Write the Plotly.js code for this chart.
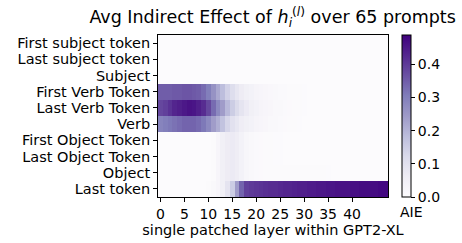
<!DOCTYPE html>
<html>
<head>
<meta charset="utf-8">
<script src="https://cdn.plot.ly/plotly-3.0.1.min.js"></script>
<style>html,body{margin:0;padding:0;background:#fff;}#chart{width:462px;height:243px;}</style>
</head>
<body>
<div id="chart"></div>
<script>
const layers = Array.from({length: 48}, (_, i) => i);
const rowLabels = ["First subject token", "Last subject token", "Subject",
  "First Verb Token", "Last Verb Token", "Verb",
  "First Object Token", "Last Object Token", "Object", "Last token"];
const xTicks = [0, 5, 10, 15, 20, 25, 30, 35, 40];
const cbTicks = [0, 0.1, 0.2, 0.3, 0.4];

const firstSubject = [0.002,0.002,0.002,0.002,0.002,0.002,0.002,0.002,0.002,0.002,0.002,0.002,0.002,0.002,0.002,0.002,0.002,0.002,0.002,0.002,0.002,0.002,0.002,0.002,0.002,0.002,0.002,0.002,0.002,0.002,0.002,0.002,0.002,0.002,0.002,0.002,0.002,0.002,0.002,0.002,0.002,0.002,0.002,0.002,0.002,0.002,0.002,0.002];
const lastSubject = [0.002,0.002,0.002,0.002,0.002,0.002,0.002,0.002,0.002,0.002,0.002,0.002,0.002,0.002,0.002,0.002,0.002,0.002,0.002,0.002,0.002,0.002,0.002,0.002,0.002,0.002,0.002,0.002,0.002,0.002,0.002,0.002,0.002,0.002,0.002,0.002,0.002,0.002,0.002,0.002,0.002,0.002,0.002,0.002,0.002,0.002,0.002,0.002];
const subject = [0.002,0.002,0.002,0.002,0.002,0.002,0.002,0.002,0.002,0.002,0.002,0.002,0.002,0.002,0.002,0.002,0.002,0.002,0.002,0.002,0.002,0.002,0.002,0.002,0.002,0.002,0.002,0.002,0.002,0.002,0.002,0.002,0.002,0.002,0.002,0.002,0.002,0.002,0.002,0.002,0.002,0.002,0.002,0.002,0.002,0.002,0.002,0.002];
const firstVerb = [0.35,0.35,0.35,0.355,0.355,0.36,0.36,0.355,0.35,0.33,0.30,0.26,0.22,0.18,0.14,0.11,0.085,0.065,0.05,0.04,0.03,0.025,0.02,0.016,0.013,0.01,0.008,0.006,0.005,0.004,0.003,0.002,0.002,0.002,0.002,0.002,0.002,0.002,0.002,0.002,0.002,0.002,0.002,0.002,0.002,0.002,0.002,0.002];
const lastVerb = [0.38,0.39,0.41,0.43,0.44,0.45,0.46,0.455,0.44,0.42,0.38,0.33,0.28,0.24,0.19,0.15,0.12,0.09,0.07,0.05,0.04,0.03,0.025,0.02,0.015,0.012,0.009,0.007,0.005,0.004,0.003,0.002,0.002,0.002,0.002,0.002,0.002,0.002,0.002,0.002,0.002,0.002,0.002,0.002,0.002,0.002,0.002,0.002];
const verb = [0.29,0.30,0.31,0.32,0.33,0.34,0.34,0.34,0.33,0.31,0.28,0.24,0.21,0.17,0.13,0.10,0.08,0.06,0.05,0.04,0.03,0.025,0.02,0.015,0.012,0.009,0.007,0.005,0.004,0.003,0.002,0.002,0.002,0.002,0.002,0.002,0.002,0.002,0.002,0.002,0.002,0.002,0.002,0.002,0.002,0.002,0.002,0.002];
const firstObject = [0.002,0.002,0.002,0.002,0.002,0.002,0.002,0.002,0.002,0.002,0.002,0.006,0.025,0.05,0.065,0.07,0.06,0.04,0.022,0.013,0.009,0.007,0.005,0.004,0.003,0.003,0.002,0.002,0.002,0.002,0.002,0.002,0.002,0.002,0.002,0.002,0.002,0.002,0.002,0.002,0.002,0.002,0.002,0.002,0.002,0.002,0.002,0.002];
const lastObject = [0.002,0.002,0.002,0.002,0.002,0.002,0.002,0.002,0.002,0.002,0.002,0.006,0.025,0.05,0.065,0.07,0.06,0.04,0.022,0.013,0.009,0.007,0.005,0.004,0.003,0.003,0.002,0.002,0.002,0.002,0.002,0.002,0.002,0.002,0.002,0.002,0.002,0.002,0.002,0.002,0.002,0.002,0.002,0.002,0.002,0.002,0.002,0.002];
const object = [0.002,0.002,0.002,0.002,0.002,0.002,0.002,0.002,0.002,0.002,0.002,0.006,0.025,0.05,0.065,0.07,0.06,0.04,0.022,0.013,0.009,0.007,0.006,0.006,0.006,0.006,0.006,0.006,0.006,0.006,0.006,0.006,0.005,0.005,0.004,0.003,0.002,0.002,0.002,0.002,0.002,0.002,0.002,0.002,0.002,0.002,0.002,0.002];
const lastToken = [0.002,0.002,0.002,0.002,0.002,0.002,0.002,0.002,0.002,0.002,0.004,0.012,0.025,0.05,0.09,0.15,0.24,0.34,0.39,0.40,0.405,0.41,0.415,0.42,0.42,0.425,0.43,0.43,0.435,0.44,0.44,0.445,0.445,0.45,0.45,0.455,0.455,0.46,0.46,0.46,0.465,0.465,0.47,0.47,0.47,0.47,0.475,0.475];

const z = [firstSubject, lastSubject, subject, firstVerb, lastVerb, verb,
  firstObject, lastObject, object, lastToken];

const purples = [
  [0.0, '#fcfbfd'], [0.125, '#efedf5'], [0.25, '#dadaeb'], [0.375, '#bcbddc'],
  [0.5, '#9e9ac8'], [0.625, '#807dba'], [0.75, '#6a51a3'], [0.875, '#54278f'], [1.0, '#3f007d']
];

const font = {family: 'DejaVu Sans', size: 14, color: '#000'};
const font2 = {family: 'DejaVu Sans', size: 14.5, color: '#000'};

Plotly.newPlot('chart', [{
  type: 'heatmap',
  x: layers,
  y: rowLabels,
  z: z,
  zmin: 0,
  zmax: 0.488,
  colorscale: purples,
  colorbar: {
    x: 1.061, xanchor: 'left', xref: 'paper',
    y: 0.5, yanchor: 'middle', len: 1.0, lenmode: 'fraction',
    ypad: 0, xpad: 0,
    thickness: 9, thicknessmode: 'pixels',
    outlinewidth: 1, outlinecolor: '#000',
    ticks: 'outside', ticklen: 4, tickcolor: '#000',
    tickvals: cbTicks,
    ticktext: cbTicks.map(v => v.toFixed(1)),
    tickfont: font
  }
}], {
  width: 462, height: 243,
  margin: {l: 158, r: 74, t: 35, b: 46, pad: 0},
  paper_bgcolor: '#fff', plot_bgcolor: '#fff',
  font: font,
  title: {
    text: 'Avg Indirect Effect of <i>h</i><sub><i>i</i></sub><sup>(<i>l</i>)</sup> over 65 prompts',
    font: {family: 'DejaVu Sans', size: 17.5, color: '#000'},
    x: 0.59, xanchor: 'center', y: 0.93, yanchor: 'middle'
  },
  annotations: [{
    text: 'AIE', xref: 'paper', yref: 'paper', x: 1.1, y: -0.03,
    xanchor: 'center', yanchor: 'top', showarrow: false, font: font
  }],
  xaxis: {
    range: [-0.5, 47.5],
    tickmode: 'array', tickvals: xTicks, ticktext: xTicks.map(String),
    ticks: 'outside', ticklen: 4, tickcolor: '#000',
    showline: true, linecolor: '#000', linewidth: 1, mirror: true,
    showgrid: false, zeroline: false,
    tickfont: font,
    title: {text: 'single patched layer within GPT2-XL', font: font2, standoff: 3}
  },
  yaxis: {
    type: 'category',
    autorange: 'reversed',
    tickmode: 'array', tickvals: rowLabels, ticktext: rowLabels,
    ticks: 'outside', ticklen: 4, tickcolor: '#000',
    showline: true, linecolor: '#000', linewidth: 1, mirror: true,
    showgrid: false, zeroline: false,
    tickfont: font2
  }
}, {displayModeBar: false, staticPlot: true});
</script>
</body>
</html>
